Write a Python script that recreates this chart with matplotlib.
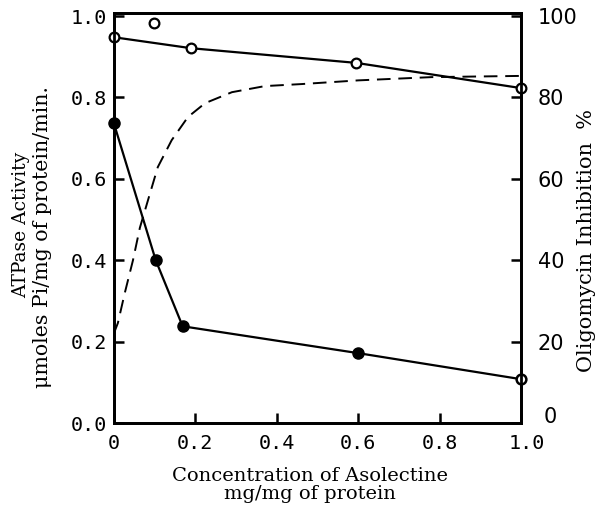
"""ATPase activity and oligomycin inhibition vs asolectine"""
import matplotlib.pyplot as plt
import matplotlib.transforms as mtransforms

# open circles, solid line (left axis)
open_x = [0.0, 0.19, 0.595, 1.0]
open_y = [0.948, 0.921, 0.885, 0.823]
# the stray open point that sits off the line
stray_x = [0.098]
stray_y = [0.983]

# filled circles, solid line (left axis)
filled_x = [0.0, 0.103, 0.169, 0.60, 1.0]
filled_y = [0.737, 0.40, 0.238, 0.172, 0.108]

# dashed curve, oligomycin inhibition in % (right axis)
dash_x = [0.0, 0.01, 0.027, 0.047, 0.064, 0.084, 0.108, 0.142, 0.182,
          0.224, 0.29, 0.371, 0.462, 0.6, 0.78, 1.0]
dash_y = [22.0, 24.6, 32.0, 40.0, 48.0, 54.8, 62.9, 69.5, 75.2,
          78.6, 81.3, 82.8, 83.3, 84.2, 85.0, 85.3]

xticks = [0, 0.2, 0.4, 0.6, 0.8, 1.0]
xtick_labels = ["0", "0.2", "0.4", "0.6", "0.8", "1.0"]
yticks = [0.0, 0.2, 0.4, 0.6, 0.8, 1.0]
ytick_labels = ["0.0", "0.2", "0.4", "0.6", "0.8", "1.0"]
rticks = [0, 20, 40, 60, 80, 100]
rtick_labels = ["0", "20", "40", "60", "80", "100"]

serif = ["DejaVu Serif"]
mono = ["DejaVu Sans Mono"]

fig = plt.figure(figsize=(5.99, 5.08), dpi=100)
ax = fig.add_axes([0.19, 0.167, 0.68, 0.807])
ax2 = ax.twinx()

ax.plot(open_x, open_y, '-', color='black', lw=1.6, zorder=2)
ax.plot(open_x + stray_x, open_y + stray_y, 'o', ms=7, mfc='white',
        mec='black', mew=1.6, zorder=3, clip_on=False)
ax.plot(filled_x, filled_y, '-', color='black', lw=1.6, zorder=2)
ax.plot(filled_x[:-1], filled_y[:-1], 'o', ms=8, color='black',
        zorder=3, clip_on=False)
ax.plot(filled_x[-1:], filled_y[-1:], 'o', ms=7, mfc='white',
        mec='black', mew=1.8, zorder=3, clip_on=False)

ax2.plot(dash_x, dash_y, '--', color='black', lw=1.4, dashes=(7, 4))

ax.set_xlim(0, 1.0)
ax.set_ylim(0, 1.007)
ax2.set_ylim(0, 100.7)

ax.set_xticks(xticks)
ax.set_xticklabels(xtick_labels, family=mono)
ax.set_yticks(yticks)
ax.set_yticklabels(ytick_labels, family=mono)
ax2.set_yticks(rticks)
ax2.set_yticklabels(rtick_labels, family="DejaVu Sans")

for a in (ax, ax2):
    for s in a.spines.values():
        s.set_linewidth(2)
ax.tick_params(direction='in', length=7, width=1.8, labelsize=14.5, pad=5,
               left=True, bottom=True, right=False, top=False)
ax.tick_params(axis='x', pad=8)
ax2.tick_params(direction='in', length=7, width=1.8, labelsize=15, pad=12,
                left=False, right=True, top=False, bottom=False)

# nudge the right-hand "0" up and the last x label to the right
lbl = ax2.get_yticklabels()[0]
lbl.set_transform(lbl.get_transform() +
                  mtransforms.ScaledTranslation(0.06, 0.08, fig.dpi_scale_trans))
lbl = ax.get_xticklabels()[-1]
lbl.set_transform(lbl.get_transform() +
                  mtransforms.ScaledTranslation(0.06, 0, fig.dpi_scale_trans))

ax.set_xlabel("Concentration of Asolectine\nmg/mg of protein",
              family=serif, fontsize=14, linespacing=1.0, labelpad=10)
ax.xaxis.label.set_x(0.482)

fig.text(21 / 599, 1 - 225 / 508, "ATPase Activity", rotation=90,
         family=serif, fontsize=13.5, ha='center', va='center')
fig.text(43 / 599, 1 - 237 / 508, "\u03bcmoles Pi/mg of protein/min.",
         rotation=90, family=serif, fontsize=14.8, ha='center', va='center')
fig.text(586 / 599, 1 - 241 / 508, "Oligomycin Inhibition  %",
         rotation=90, family=serif, fontsize=15, ha='center', va='center')

plt.savefig("out.png", dpi=100)
